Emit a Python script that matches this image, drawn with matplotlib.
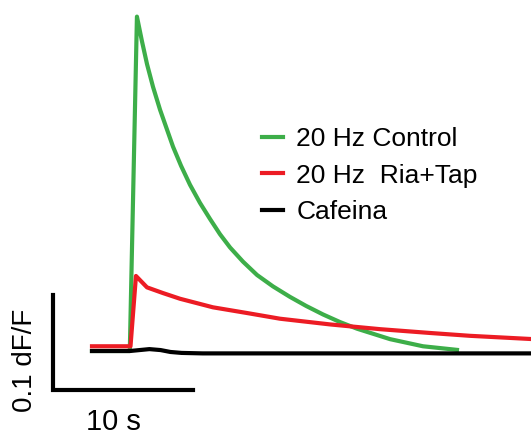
import matplotlib
matplotlib.use("Agg")
import matplotlib.pyplot as plt

plt.rcParams['font.family'] = ['Liberation Sans', 'DejaVu Sans']

# traces: time (s), dF/F
control_t = [0, 2.7, 3.21, 3.57, 3.93, 4.36, 4.86, 5.36, 5.79, 6.36, 7.0, 7.71, 8.43, 9.14, 9.86,
             10.79, 11.79, 12.93, 14.14, 15.29, 16.5, 17.71, 18.93, 21.29, 23.64, 26.07]
control_f = [0, 0, 0.352, 0.326, 0.302, 0.278, 0.254, 0.233, 0.215, 0.195, 0.175, 0.156, 0.139,
             0.123, 0.109, 0.094, 0.080, 0.068, 0.057, 0.0475, 0.0385, 0.0305, 0.0235, 0.0125,
             0.005, 0.0012]

ria_t = [0, 2.75, 3.14, 3.93, 5.07, 6.29, 8.64, 11.07, 13.43, 17.0, 20.57, 24.14, 27.0, 31.4]
ria_f = [0.005, 0.005, 0.079, 0.067, 0.061, 0.055, 0.046, 0.040, 0.034, 0.028, 0.023,
         0.019, 0.016, 0.0126]

caf_t = [0, 2.7, 3.4, 4.1, 4.9, 5.6, 6.4, 7.9, 31.4]
caf_f = [0, 0, 0.001, 0.002, 0.001, -0.001, -0.002, -0.0025, -0.0025]

labels = ['20 Hz Control', '20 Hz  Ria+Tap', 'Cafeina']
colors = ['#3dae49', '#ec1c24', '#000000']

# scale bar
bar_t, bar_f = 10, 0.1
bar_x0, bar_y0 = -2.79, -0.0415

fig = plt.figure(figsize=(5.31, 4.33), dpi=100)
ax = fig.add_axes([0, 0, 1, 1])
ax.plot(control_t, control_f, color=colors[0], lw=3, label=labels[0], solid_joinstyle='round')
ax.plot(ria_t, ria_f, color=colors[1], lw=3, label=labels[1], solid_joinstyle='round')
ax.plot(caf_t, caf_f, color=colors[2], lw=3, label=labels[2], solid_joinstyle='round')

ax.plot([bar_x0, bar_x0, bar_x0 + bar_t], [bar_y0 + bar_f, bar_y0, bar_y0],
        color='black', lw=3, solid_joinstyle='miter')
ax.text(bar_x0 + bar_t / 2 - 0.7, -0.0835, '10 s', fontsize=21, ha='center', va='baseline')
ax.text(-4.75, bar_y0 + bar_f / 2 - 0.0185, '0.1 dF/F', fontsize=20, rotation=90,
        ha='center', va='center')

ax.set_xlim(-6.571, 31.357)
ax.set_ylim(-0.0863, 0.3695)
ax.axis('off')

ax.legend(loc='upper left', bbox_to_anchor=(262 / 531, 1 - 127 / 433), frameon=False,
          fontsize=19, handlelength=0.8, handletextpad=0.5, labelspacing=0.48,
          borderpad=0, borderaxespad=0)

fig.savefig('out.png', dpi=100)
